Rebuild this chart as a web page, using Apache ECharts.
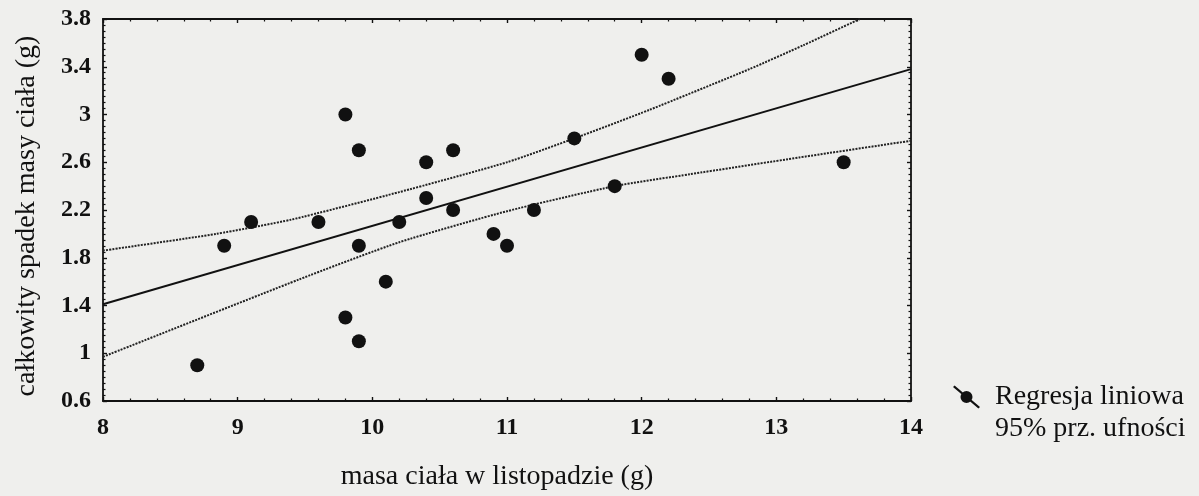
<!DOCTYPE html>
<html><head><meta charset="utf-8">
<script src="https://cdn.jsdelivr.net/npm/echarts@6/dist/echarts.min.js"></script>
<style>html,body{margin:0;padding:0;background:#efefed;} #c{width:1199px;height:496px;}</style>
</head><body><div id="c"></div>
<script>
// ---- data ----
const xRange = [8, 14];
const yRange = [0.6, 3.8];
const massNov  = [9.8, 9.9, 9.1, 9.6, 10.2, 8.9, 9.9, 10.1, 9.8, 9.9, 8.7, 12.0, 12.2, 11.5, 10.4, 10.6, 10.4, 10.6, 11.2, 11.8, 10.9, 11.0, 13.5];
const massLoss = [3.0, 2.7, 2.1, 2.1, 2.1, 1.9, 1.9, 1.6, 1.3, 1.1, 0.9, 3.5, 3.3, 2.8, 2.6, 2.7, 2.3, 2.2, 2.2, 2.4, 2.0, 1.9, 2.6];
const regX = [8, 14];
const regY = [1.41, 3.38];
const ciUpperX = [8, 8.84, 9.4, 10.2, 11.0, 11.5, 12.06, 12.8, 13.2, 13.62];
const ciUpperY = [1.86, 2.0, 2.12, 2.35, 2.60, 2.80, 3.04, 3.38, 3.58, 3.8];
const ciLowerX = [8, 9.46, 10.2, 11.0, 11.8, 12.36, 13.17, 14];
const ciLowerY = [0.97, 1.62, 1.93, 2.19, 2.40, 2.50, 2.64, 2.78];
const seriesNames = ['Regresja liniowa', '95% prz. ufności'];
const xTitle = 'masa ciała w listopadzie (g)';
const yTitle = 'całkowity spadek masy ciała (g)';

const zip = (a, b) => a.map((v, i) => [v, b[i]]);
const FONT = '"Liberation Serif", "Times New Roman", serif';
const INK = '#111';

const chart = echarts.init(document.getElementById('c'), null, {renderer: 'canvas'});

function xAx(pos, showLabel) {
  return {
    type: 'value', min: xRange[0], max: xRange[1], interval: 1, position: pos,
    axisLine: {onZero: false, lineStyle: {color: INK, width: 1.8}},
    axisTick: {inside: true, length: 4, lineStyle: {color: INK, width: 1.4}},
    minorTick: {show: true, splitNumber: 5, length: 2.5, lineStyle: {color: INK, width: 1.2}},
    splitLine: {show: false},
    axisLabel: {show: showLabel, fontFamily: FONT, fontWeight: 'bold', fontSize: 24, color: INK, margin: 15}
  };
}
function yAx(pos, showLabel) {
  return {
    type: 'value', min: yRange[0], max: yRange[1], interval: 0.4, position: pos,
    axisLine: {onZero: false, lineStyle: {color: INK, width: 1.8}},
    axisTick: {inside: true, length: 4, lineStyle: {color: INK, width: 1.4}},
    minorTick: {show: true, splitNumber: 8, length: 2.5, lineStyle: {color: INK, width: 1.2}},
    splitLine: {show: false},
    axisLabel: {show: showLabel, fontFamily: FONT, fontWeight: 'bold', fontSize: 24, color: INK, margin: 12}
  };
}

const legendIcon = 'path://M0,1.6 L1.6,0 L27,21.4 L25.4,23 Z M7.5,11.5 a6,6 0 1,1 12,0 a6,6 0 1,1 -12,0 Z';

chart.setOption({
  animation: false,
  backgroundColor: '#efefed',
  grid: {left: 103, right: 288, top: 19, bottom: 95},
  xAxis: [xAx('bottom', true), xAx('top', false)],
  yAxis: [yAx('left', true), yAx('right', false)],
  legend: {
    orient: 'vertical', left: 948, top: 378, itemWidth: 27, itemHeight: 23, itemGap: 4,
    selectedMode: false,
    textStyle: {fontFamily: FONT, fontSize: 28, color: INK, padding: [0, 0, 0, 10]},
    data: [
      {name: seriesNames[0], icon: legendIcon, itemStyle: {color: INK, opacity: 1}},
      {name: seriesNames[1], icon: 'none'}
    ]
  },
  graphic: [
    {type: 'text', x: 27, y: 216, rotation: Math.PI / 2,
     style: {text: yTitle, font: '28px ' + FONT, fill: INK, align: 'center', verticalAlign: 'middle'}},
    {type: 'text', x: 497, y: 477,
     style: {text: xTitle, font: '28px ' + FONT, fill: INK, align: 'center', verticalAlign: 'middle'}}
  ],
  series: [
    {name: seriesNames[0], type: 'scatter', data: zip(massNov, massLoss), symbolSize: 14,
     itemStyle: {color: INK, opacity: 1}, z: 5},
    {name: seriesNames[0], type: 'line', data: zip(regX, regY), showSymbol: false, symbol: 'none',
     lineStyle: {color: INK, width: 2}, itemStyle: {color: INK}, z: 4},
    {name: seriesNames[1], type: 'line', data: zip(ciUpperX, ciUpperY), symbol: 'none', smooth: 0.2,
     lineStyle: {color: '#222', width: 2, type: [2, 1.2]}, itemStyle: {color: '#222'}, z: 3},
    {name: seriesNames[1], type: 'line', data: zip(ciLowerX, ciLowerY), symbol: 'none', smooth: 0.2,
     lineStyle: {color: '#222', width: 2, type: [2, 1.2]}, itemStyle: {color: '#222'}, z: 3}
  ]
});
</script></body></html>
